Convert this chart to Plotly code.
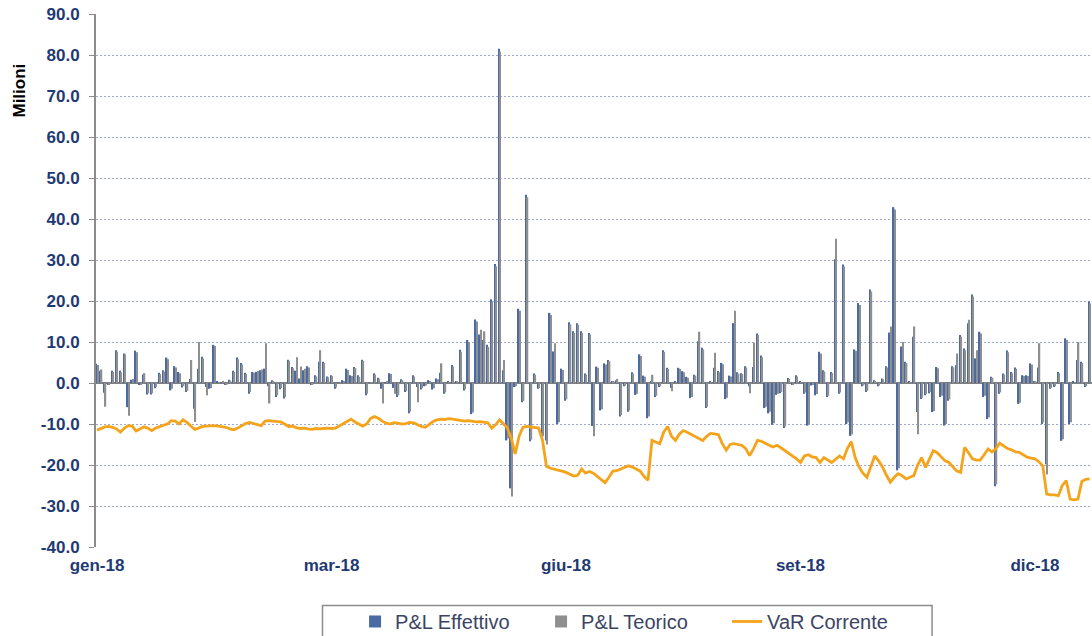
import plotly.graph_objects as go

# ---------------- data (millions of EUR, one value per business day of 2018) ----------------
pnl_effettivo = [
    4.7, 3.0, -2.4, -0.5, 3.0, 8.0, 3.0, 7.2, -5.9, 0.8,
    7.9, -0.5, 2.1, -2.8, -2.8, -1.3, 2.5, 3.1, 6.2, -1.8,
    4.1, 2.7, -1.1, -2.2, 1.0, -6.3, 3.5, 6.4, -1.0, -1.4,
    9.3, 0.3, 0.2, -0.5, 0.8, 3.0, 6.2, 4.9, 2.5, -2.6,
    2.7, 2.7, 3.1, 3.5, -0.8, 0.7, -3.4, -1.5, -3.8, 5.7,
    3.9, 3.0, 1.1, 3.1, 4.1, -0.5, 1.9, 5.2, 5.2, 1.6,
    1.9, -1.4, 0.2, 0.7, 3.5, 1.9, 3.9, 1.9, 5.7, -3.0,
    0.2, 2.4, 1.3, -1.4, 0.2, 2.4, -1.2, -3.4, 0.9, -2.2,
    -7.4, 1.9, -1.0, -1.6, -0.8, 0.7, -1.6, 1.1, 2.5, -2.6,
    0.3, 4.4, 0.5, 8.1, -1.8, 10.5, -7.6, 15.5, 11.8, 10.5,
    9.3, 20.4, 29.0, 81.5, 3.1, -14.0, -25.7, -1.0, 18.1, -4.7,
    45.9, -14.2, 2.3, -1.4, -12.5, -14.0, 17.1, 7.7, -10.0, 3.5,
    -4.3, 14.8, 12.6, 14.6, 12.6, 2.3, 12.2, -10.5, 4.0, -6.7,
    4.8, 5.6, 0.5, 0.7, -8.2, -0.8, -7.0, 2.6, -2.9, 7.0,
    1.8, -8.6, 0.5, -3.4, -1.0, 8.0, 3.7, -1.2, 0.3, 3.7,
    2.9, 1.5, -3.7, 2.0, 10.2, 8.6, -6.1, 0.3, 3.7, 2.9,
    4.9, -3.9, 1.8, 14.6, 2.6, 2.4, 4.1, -0.8, 3.9, 12.1,
    6.7, -6.1, -7.4, -10.2, -2.9, -2.5, -11.0, 1.2, -0.5, 1.9,
    0.3, -2.6, -10.4, -0.6, -3.0, 7.6, 3.1, -3.4, 2.7, 30.2,
    -2.6, 28.9, -10.0, -12.9, 8.2, 19.5, -0.8, -2.2, 22.8, 0.7,
    -0.8, 1.1, 4.1, 12.3, 42.9, -21.3, 8.9, 5.2, 0.3, 11.3,
    -7.1, -3.9, -3.0, -2.5, -7.1, 3.9, -3.4, -10.4, -4.3, 4.1,
    4.3, 11.7, 8.4, 14.6, 21.6, 6.0, 12.5, -3.4, -8.8, 1.5,
    -25.2, -2.6, 2.3, 7.9, 2.7, 3.8, -5.1, 1.9, 1.9, 4.8,
    0.5, 3.8, -10.0, -19.8, -1.4, -1.0, 2.7, -14.1, 10.9, -10.0,
    0.3, 5.6, 5.2, -1.0, 19.9,
]

pnl_teorico = [
    4.4, 3.3, -5.8, -0.3, 2.7, 7.6, 2.6, 7.0, -8.0, 1.0,
    7.5, -0.3, 2.4, -2.5, -2.5, -1.0, 2.2, 2.8, 5.8, -1.4,
    3.8, 2.4, -0.8, -1.9, 5.6, -9.5, 10.0, 6.0, -3.0, -1.2,
    9.0, 0.2, 0.4, -0.4, 0.6, 2.7, 5.8, 4.5, 2.2, -2.2,
    2.5, 2.9, 3.3, 9.7, -5.0, 0.5, -3.0, -1.2, -3.4, 5.4,
    3.6, 6.3, 4.0, 3.5, 3.8, -0.3, 1.6, 8.0, 4.9, 1.4,
    1.7, -1.1, 0.1, 0.5, 3.2, 1.7, 3.6, 1.5, 5.4, -2.6,
    0.1, 2.1, 1.1, -5.0, 0.3, 2.2, -2.6, -3.0, 0.7, -2.0,
    -7.0, 1.6, -4.7, -1.3, -0.6, 0.5, -1.3, 0.9, 4.8, -2.3,
    0.2, 4.0, 0.4, 7.6, -1.5, 10.0, -7.2, 15.0, 13.0, 12.6,
    8.8, 19.8, 28.5, 80.8, 5.6, -13.5, -27.7, -0.8, 17.6, -4.4,
    45.3, -13.8, 2.0, -1.2, -13.0, -15.0, 16.6, 9.7, -9.6, 3.2,
    -4.0, 14.3, 12.2, 14.2, 12.2, 2.0, 11.8, -13.0, 3.7, -6.4,
    4.5, 5.3, 0.4, 1.0, -7.8, -0.6, -6.7, 2.3, -2.6, 6.6,
    1.5, -8.2, 2.0, -3.1, -0.8, 7.6, 3.4, -2.0, 0.2, 3.4,
    2.6, 1.3, -3.4, 1.8, 12.5, 8.2, -5.8, 0.2, 7.4, 2.6,
    4.6, -3.6, 1.6, 17.6, 2.3, 2.2, 3.8, -2.5, 9.8, 11.7,
    6.3, -5.8, -7.0, -9.8, -2.6, -2.2, -10.6, 1.0, -0.4, 1.6,
    0.2, -2.3, -10.0, -0.5, -2.7, 7.2, 2.8, -3.1, 2.4, 35.2,
    -2.3, 28.4, -9.6, -12.5, 7.8, 19.0, -0.6, -1.9, 22.3, 0.5,
    -0.6, 0.9, 3.8, 13.8, 42.3, -20.8, 10.0, 4.9, 0.2, 13.8,
    -12.5, -3.6, -2.7, -2.2, -6.8, 3.6, -3.1, -10.0, -4.0, 3.8,
    7.2, 11.3, 8.0, 15.4, 21.1, 8.0, 12.1, -3.1, -8.4, 1.3,
    -24.7, -2.3, 2.1, 7.5, 2.4, 3.5, -4.8, 1.7, 1.7, 4.5,
    0.4, 9.7, -9.6, -22.3, -1.2, -0.8, 2.4, -13.7, 10.5, -9.6,
    0.2, 10.0, 4.9, -0.8, 19.4,
]

var_corrente = [
    -11.5, -11.0, -10.7, -10.6, -10.8, -11.2, -12.0, -11.0, -10.4, -10.5,
    -11.7, -11.2, -10.7, -11.0, -11.6, -11.0, -10.6, -10.3, -10.0, -9.2,
    -9.3, -10.0, -9.0, -9.6, -10.5, -11.3, -11.0, -10.6, -10.5, -10.4,
    -10.4, -10.5, -10.6, -10.8, -11.2, -11.4, -11.0, -10.4, -9.9, -9.6,
    -9.9, -10.1, -10.4, -9.3, -9.2, -9.3, -9.4, -9.5, -10.0, -10.6,
    -10.5, -10.9, -11.1, -11.0, -11.2, -11.3, -11.1, -11.2, -11.1, -11.0,
    -11.1, -11.0, -10.5, -10.0, -9.3, -8.8, -9.5, -10.0, -10.5, -10.0,
    -8.6, -8.2, -8.6, -9.3, -9.8, -10.0, -9.7, -9.8, -10.0, -9.9,
    -9.6, -9.7, -10.1, -10.6, -10.8, -10.0, -9.4, -9.0, -8.8, -8.9,
    -8.7, -8.8, -9.0, -9.2, -9.3, -9.2, -9.4, -9.5, -9.4, -9.6,
    -9.7, -11.0, -10.2, -9.0, -10.0, -11.0, -13.5, -17.3, -13.0, -10.8,
    -10.6, -10.7, -10.9, -11.0, -14.0, -20.3, -20.8, -21.0, -21.3, -21.5,
    -21.8, -22.2, -22.7, -22.5, -21.0, -22.0, -21.6, -22.0, -22.8, -23.5,
    -24.3, -23.0, -21.5, -21.4, -21.0, -20.5, -20.2, -20.5, -21.0, -21.5,
    -22.8, -23.7, -14.0, -14.5, -14.8, -12.0, -10.6, -13.0, -14.0, -12.5,
    -11.6, -12.0, -12.5, -12.8, -13.5, -14.0, -13.0, -12.3, -12.4, -12.6,
    -14.8, -16.4, -15.0, -14.8, -15.0, -15.2, -16.0, -17.7, -16.0, -14.0,
    -14.2, -14.8, -15.2, -15.6, -15.2, -15.8, -16.5, -17.0, -17.7, -18.5,
    -19.4, -17.8, -17.5, -18.0, -18.2, -19.4, -18.2, -18.8, -19.4, -18.6,
    -17.8, -18.5, -16.0, -14.3, -18.2, -20.5, -22.0, -23.0, -20.5, -17.8,
    -19.0, -20.5, -22.5, -24.2, -23.0, -22.1, -22.6, -23.4, -23.0, -22.6,
    -20.0, -18.2, -20.6, -18.5, -16.5, -17.0, -18.0, -19.0, -19.4, -20.5,
    -21.5, -21.8, -15.7, -17.0, -18.5, -18.8, -18.8, -17.5, -16.1, -16.8,
    -16.0, -14.7, -15.3, -16.0, -16.3, -16.8, -16.9, -17.5, -18.1, -18.3,
    -18.5, -19.2, -20.2, -27.1, -27.3, -27.3, -27.5, -25.0, -23.8, -28.3,
    -28.5, -28.3, -24.0, -23.5, -23.4,
]

# category positions (business-day index) carrying a month label, and their labels
tick_index = [0, 60, 120, 180, 240]
tick_labels = ["gen-18", "mar-18", "giu-18", "set-18", "dic-18"]
y_ticks = [-40, -30, -20, -10, 0, 10, 20, 30, 40, 50, 60, 70, 80, 90]
y_tick_labels = ["-40.0", "-30.0", "-20.0", "-10.0", "0.0", "10.0", "20.0",
                 "30.0", "40.0", "50.0", "60.0", "70.0", "80.0", "90.0"]

days = list(range(len(var_corrente)))

FONT = "Liberation Sans, Arial, sans-serif"
TICK_BLUE = "#1f3a73"

fig = go.Figure()
fig.add_bar(x=days, y=pnl_effettivo, name="P&L Effettivo",
            marker=dict(color="#4a6aa5", line=dict(width=0)))
fig.add_bar(x=days, y=pnl_teorico, name="P&L Teorico",
            marker=dict(color="#8f8f8f", line=dict(width=0)))
fig.add_scatter(x=days, y=var_corrente, mode="lines", name="VaR Corrente",
                line=dict(color="#F5A31A", width=2.8))

fig.update_layout(
    width=1092, height=636,
    margin=dict(l=96, r=0, t=14, b=89, autoexpand=False),
    paper_bgcolor="white", plot_bgcolor="white",
    barmode="group", bargap=0.3, bargroupgap=0,
    font=dict(family=FONT),
    showlegend=True,
    legend=dict(
        orientation="h", x=0.2601, xanchor="left",
        yref="container", y=0.0535, yanchor="top",
        borderwidth=0, bgcolor="rgba(0,0,0,0)",
        font=dict(family=FONT, size=20, color="#3b4463"),
        entrywidth=141, entrywidthmode="pixels",
        traceorder="normal",
    ),
    xaxis=dict(
        range=[-0.26, 254.6], automargin=False,
        tickmode="array", tickvals=tick_index, ticktext=tick_labels,
        tickfont=dict(family=FONT, size=17, color=TICK_BLUE, weight="bold"),
        showgrid=False, zeroline=False, showline=False, ticks="",
        ticklabelstandoff=6,
    ),
    yaxis=dict(
        range=[-40, 90], automargin=False,
        tickmode="array", tickvals=y_ticks, ticktext=y_tick_labels,
        tickfont=dict(family=FONT, size=17, color=TICK_BLUE, weight="bold"),
        showgrid=True, gridcolor="#9ea8d0", gridwidth=1, griddash="2px,2px",
        zeroline=True, zerolinecolor="#7f7f7f", zerolinewidth=1.5,
        showline=True, linecolor="#8c8c8c", linewidth=2,
        ticks="outside", ticklen=5, tickcolor="#8c8c8c",
        ticklabelstandoff=6,
    ),
    shapes=[dict(
        type="rect", xref="paper", yref="paper",
        x0=0.2274, x1=0.8394, y0=-0.1098, y1=-0.25,
        line=dict(color="#8c8c8c", width=1.5), fillcolor="rgba(0,0,0,0)",
        layer="below",
    )],
    annotations=[dict(
        text="<b>Milioni</b>", textangle=-90,
        xref="paper", yref="paper", x=-0.0768, y=0.8555,
        xanchor="center", yanchor="middle", showarrow=False,
        font=dict(family=FONT, size=17, color="#000000"),
    )],
)

# remove the browser's default page margin so the 1092x636 figure fills the window exactly
fig.write_html(
    "out.html",
    config={"displayModeBar": False},
    post_script="document.body.style.margin='0';document.body.style.overflow='hidden';",
)
